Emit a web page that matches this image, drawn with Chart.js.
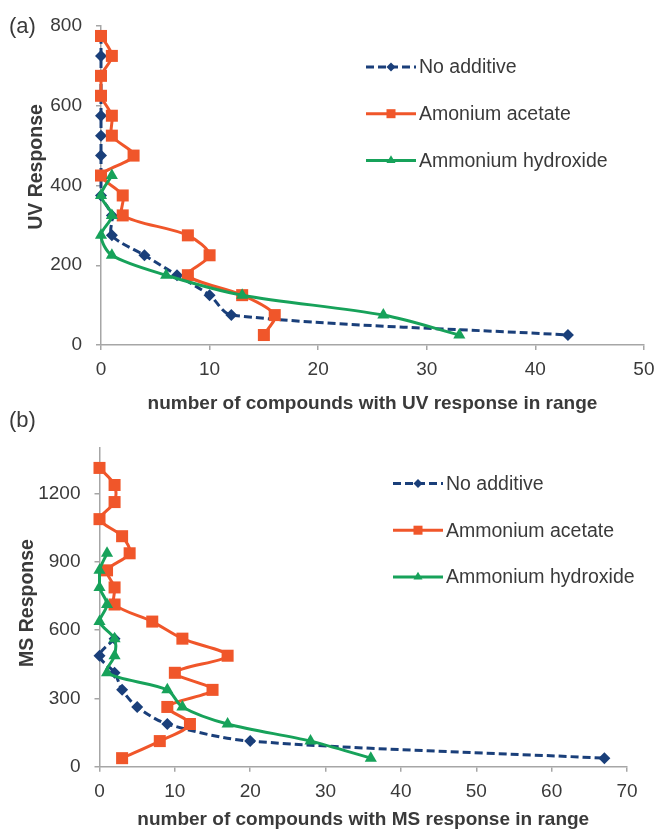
<!DOCTYPE html>
<html>
<head>
<meta charset="utf-8">
<script src="https://cdn.jsdelivr.net/npm/chart.js@4.4.1/dist/chart.umd.min.js"></script>
<style>
  body { margin: 0; background: #fff; }
  .panel { position: absolute; left: 0; width: 663px; }
  #panelA { top: 0; height: 420px; }
  #panelB { top: 395px; height: 437px; }
</style>
</head>
<body>
<div class="panel" id="panelA"><canvas id="uvChart"></canvas></div>
<div class="panel" id="panelB"><canvas id="msChart"></canvas></div>
<script>
// UV response ranges (centre of each 50-wide bin), top to bottom
const uvBins = [775, 725, 675, 625, 575, 525, 475, 425, 375, 325, 275, 225, 175, 125, 75, 25];
const uvNoAdditive = [0, 0, 0, 0, 0, 0, 0, 0, 0, 1, 1, 4, 7, 10, 12, 43];
const uvAcetate = [0, 1, 0, 0, 1, 1, 3, 0, 2, 2, 8, 10, 8, 13, 16, 15];
const uvHydroxide = [null, null, null, null, null, null, null, 1, 0, 1, 0, 1, 6, 13, 26, 33];

// MS response ranges (centre of each 75-wide bin), top to bottom
const msBins = [1312.5, 1237.5, 1162.5, 1087.5, 1012.5, 937.5, 862.5, 787.5, 712.5,
  637.5, 562.5, 487.5, 412.5, 337.5, 262.5, 187.5, 112.5, 37.5];
const msNoAdditive = [null, null, null, null, null, null, null, null, null, null, 2, 0, 2, 3, 5, 9, 20, 67];
const msAcetate = [0, 2, 2, 0, 3, 4, 1, 2, 2, 7, 11, 17, 10, 15, 9, 12, 8, 3];
const msHydroxide = [null, null, null, null, null, 1, 0, 0, 1, 0, 2, 2, 1, 9, 11, 17, 28, 36];

const textColor = '#3a3a3a';
const axisColor = '#a6a6a6';
const fontFamily = '"Liberation Sans", Arial, sans-serif';

const styles = {
  none: { color: '#1a3f7a', pointStyle: 'rectRot', radius: 6, dash: [8, 4], order: 3 },
  acetate: { color: '#f0562a', pointStyle: 'rect', radius: 8.5, dash: [], order: 2 },
  hydroxide: { color: '#17a25a', pointStyle: 'triangle', radius: 7, dash: [], order: 1 }
};

function toPoints(bins, counts) {
  return bins.map((y, i) => ({ x: counts[i], y: y })).filter(p => p.x !== null);
}

function makeDataset(label, points, st) {
  return {
    label: label,
    data: points,
    borderColor: st.color,
    backgroundColor: st.color,
    borderWidth: 3,
    borderDash: st.dash,
    pointStyle: st.pointStyle,
    pointRadius: st.radius,
    pointHoverRadius: st.radius,
    pointBorderWidth: 0,
    tension: 0.3,
    fill: false,
    clip: false,
    order: st.order
  };
}

// legend, panel letter and rotated y title drawn straight onto the canvas
const annotations = {
  id: 'annotations',
  afterDraw(chart, args, opts) {
    const ctx = chart.ctx;
    ctx.save();
    ctx.fillStyle = textColor;
    ctx.font = '22px ' + fontFamily;
    ctx.textBaseline = 'middle';
    ctx.textAlign = 'left';
    ctx.fillText(opts.panel, 9, opts.panelY);

    ctx.save();
    ctx.translate(opts.titleX, opts.titleY);
    ctx.rotate(-Math.PI / 2);
    ctx.font = 'bold 19.5px ' + fontFamily;
    ctx.textAlign = 'center';
    ctx.textBaseline = 'alphabetic';
    ctx.fillText(opts.yTitle, 0, 0);
    ctx.restore();

    opts.legend.forEach((entry, i) => {
      const st = entry.style;
      const y = opts.legendY + i * opts.legendGap;
      const x0 = opts.legendX;
      ctx.save();
      ctx.strokeStyle = st.color;
      ctx.lineWidth = 3;
      ctx.setLineDash(st.dash);
      ctx.beginPath();
      ctx.moveTo(x0, y);
      ctx.lineTo(x0 + 50, y);
      ctx.stroke();
      ctx.restore();
      ctx.fillStyle = st.color;
      Chart.helpers.drawPoint(ctx, { pointStyle: st.pointStyle, radius: st.radius * 0.75, rotation: 0, borderWidth: 0 }, x0 + 25, y);
      ctx.fillStyle = textColor;
      ctx.font = '19.5px ' + fontFamily;
      ctx.textBaseline = 'middle';
      ctx.fillText(entry.label, x0 + 53, y + 1);
    });
    ctx.restore();
  }
};

function makeChart(canvasId, cfg) {
  return new Chart(document.getElementById(canvasId), {
    type: 'line',
    data: { datasets: cfg.datasets },
    plugins: [annotations],
    options: {
      responsive: true,
      maintainAspectRatio: false,
      animation: false,
      events: [],
      layout: { padding: { top: cfg.top, right: cfg.right, left: 0, bottom: 0 } },
      plugins: {
        legend: { display: false },
        tooltip: { enabled: false },
        annotations: cfg.notes
      },
      scales: {
        x: {
          type: 'linear',
          min: 0,
          max: cfg.xMax,
          afterFit(scale) { scale.height = cfg.xHeight; },
          ticks: { stepSize: 10, color: textColor, padding: 8.5, font: { size: 19, family: fontFamily } },
          grid: { drawOnChartArea: false, tickLength: 5, color: axisColor, lineWidth: 1.5 },
          border: { color: axisColor, width: 1.5 },
          title: {
            display: true,
            text: cfg.xTitle,
            color: textColor,
            padding: { top: 0, bottom: cfg.xTitlePad },
            font: { size: 19, weight: 'bold', family: fontFamily }
          }
        },
        y: {
          type: 'linear',
          min: 0,
          max: cfg.yMax,
          afterFit(scale) { scale.width = cfg.left; },
          // keep only the major steps, the axis just runs on past the last one
          afterBuildTicks(scale) {
            scale.ticks = scale.ticks.filter(t => t.value % cfg.yStep === 0);
          },
          ticks: {
            stepSize: cfg.yStep,
            color: textColor,
            padding: 14,
            font: { size: 19, family: fontFamily },
            callback: v => String(v)
          },
          grid: { drawOnChartArea: false, tickLength: 5, color: axisColor, lineWidth: 1.5 },
          border: { color: axisColor, width: 1.5 }
        }
      }
    }
  });
}

makeChart('uvChart', {
  datasets: [
    makeDataset('No additive', toPoints(uvBins, uvNoAdditive), styles.none),
    makeDataset('Amonium acetate', toPoints(uvBins, uvAcetate), styles.acetate),
    makeDataset('Ammonium hydroxide', toPoints(uvBins, uvHydroxide), styles.hydroxide)
  ],
  xMax: 50, yMax: 800, yStep: 200,
  top: 26, right: 17, left: 101, xHeight: 75, xTitlePad: 5,
  xTitle: 'number of compounds with UV response in range',
  notes: {
    panel: '(a)', panelY: 27,
    yTitle: 'UV Response', titleX: 42, titleY: 167,
    legendX: 366, legendY: 67, legendGap: 46.7,
    legend: [
      { label: 'No additive', style: styles.none },
      { label: 'Amonium acetate', style: styles.acetate },
      { label: 'Ammonium hydroxide', style: styles.hydroxide }
    ]
  }
});

makeChart('msChart', {
  datasets: [
    makeDataset('No additive', toPoints(msBins, msNoAdditive), styles.none),
    makeDataset('Ammonium acetate', toPoints(msBins, msAcetate), styles.acetate),
    makeDataset('Ammonium hydroxide', toPoints(msBins, msHydroxide), styles.hydroxide)
  ],
  xMax: 70, yMax: 1400, yStep: 300,
  top: 53, right: 36, left: 99.5, xHeight: 65.3, xTitlePad: 0.6,
  xTitle: 'number of compounds with MS response in range',
  notes: {
    panel: '(b)', panelY: 25.5,
    yTitle: 'MS Response', titleX: 33, titleY: 208,
    legendX: 393, legendY: 88.5, legendGap: 46.7,
    legend: [
      { label: 'No additive', style: styles.none },
      { label: 'Ammonium acetate', style: styles.acetate },
      { label: 'Ammonium hydroxide', style: styles.hydroxide }
    ]
  }
});
</script>
</body>
</html>
